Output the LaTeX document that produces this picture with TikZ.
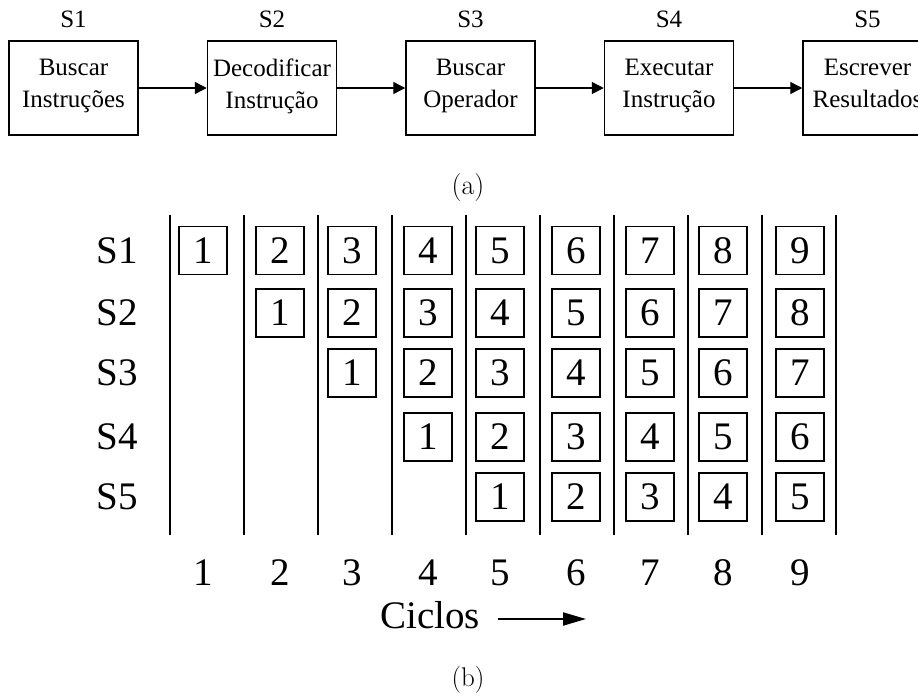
\documentclass[tikz,border=0pt]{standalone}
\usepackage{fontspec}
\usetikzlibrary{arrows.meta,positioning}
\newfontfamily\stagefont{Liberation Serif}
\tikzset{
  stagebox/.style={draw=black, line width=1.5pt, minimum width=129pt, minimum height=94pt, inner sep=0pt, align=center, font=\stagefont\fontsize{25}{32}\selectfont, execute at begin node=\strut, execute at end node=\strut},
  stagename/.style={inner sep=0pt, font=\stagefont\fontsize{25}{25}\selectfont},
  cellbox/.style={draw=black, line width=1.6pt, minimum width=48pt, minimum height=48pt, inner sep=0pt, font=\stagefont\fontsize{39}{39}\selectfont},
  bigtext/.style={inner sep=0pt, font=\stagefont\fontsize{39}{39}\selectfont},
  captiontext/.style={inner sep=0pt, font=\fontsize{27}{27}\selectfont},
  arrow/.style={-{Triangle[length=12pt, width=12pt]}, line width=1.4pt},
  bigarrow/.style={-{Triangle[length=23pt, width=13pt]}, line width=2pt}
}

\begin{document}
\begin{tikzpicture}[x=1pt, y=-1pt, node distance=68pt]
\useasboundingbox (0,0) rectangle (918,697);

% (a) the five stages
\node[stagebox] (s1) at (73.5,88) {Buscar\\Instruções};
\node[stagebox, right=of s1] (s2) {Decodificar\\Instrução};
\node[stagebox, right=of s2] (s3) {Buscar\\Operador};
\node[stagebox, right=of s3] (s4) {Executar\\Instrução};
\node[stagebox, right=of s4] (s5) {Escrever\\Resultados};

\foreach \s in {1,...,5}
  \node[stagename, above=12pt of s\s] (t\s) {S\s};

\draw[arrow] (s1) -- (s2);
\draw[arrow] (s2) -- (s3);
\draw[arrow] (s3) -- (s4);
\draw[arrow] (s4) -- (s5);

\node[captiontext, font=\fontsize{28}{28}\selectfont] (capa) at (468,187.5) {(a)};

% (b) pipeline over the cycles
\foreach \k in {0,...,9}
  \draw[line width=1.8pt] (170+74*\k,215) -- (170+74*\k,535);

\foreach \s/\y in {1/250.5,2/313,3/373,4/437,5/497} {
  \node[bigtext] (r\s) at (117,\y) {S\s};
  \foreach \c/\x in {1/203,2/280,3/352,4/428,5/500,6/576,7/650,8/723,9/800} {
    \ifnum\c<\s\else
      \pgfmathtruncatemacro{\n}{\c-\s+1}
      \node[cellbox] (c\s-\c) at (\x,\y) {\n};
    \fi
  }
}

\foreach \c/\x in {1/203,2/280,3/352,4/428,5/500,6/576,7/650,8/723,9/800}
  \node[bigtext, anchor=base] (n\c) at (\x,585) {\c};

\node[bigtext, anchor=base west] (ciclos) at (380,628) {Ciclos};
\coordinate (cstart) at (498,619);
\coordinate (cend) at (586,619);
\draw[bigarrow] (cstart) -- (cend);

\node[captiontext] (capb) at (468,680) {(b)};
\end{tikzpicture}
\end{document}
